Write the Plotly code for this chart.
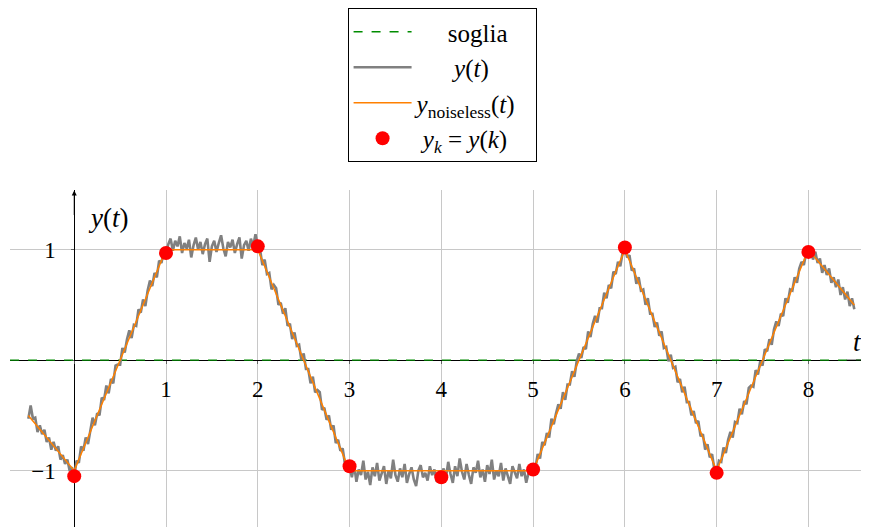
import numpy as np
import plotly.graph_objects as go

# ---- data ----
T_START = -0.5
T_STEP = 0.025
y_noisy = [
    # -0.5 .. -0.025
    -0.53, -0.41, -0.53, -0.52, -0.65, -0.59, -0.67, -0.63, -0.74, -0.70,
    -0.81, -0.74, -0.82, -0.78, -0.90, -0.86, -0.94, -0.90, -1.00, -0.97,
    # t = 0
    -1.05,
    -0.91, -0.93, -0.78, -0.82, -0.70, -0.76, -0.62, -0.52, -0.59, -0.48,
    -0.50, -0.34, -0.36, -0.23, -0.30, -0.17, -0.21, -0.05, -0.04, -0.04,
    0.11, 0.07, 0.19, 0.27, 0.20, 0.32, 0.31, 0.46, 0.43, 0.55,
    0.49, 0.63, 0.72, 0.67, 0.79, 0.75, 0.90, 0.88, 0.98,
    # t = 1
    0.97,
    1.05, 1.10, 0.99, 1.08, 1.03, 1.12, 0.97, 1.06, 1.01, 1.09,
    0.93, 1.04, 1.11, 1.00, 1.07, 0.96, 1.05, 1.10, 0.89, 1.03,
    1.08, 0.98, 1.06, 1.13, 1.01, 0.94, 1.07, 1.02, 1.09, 0.97,
    1.05, 1.11, 0.92, 1.04, 1.08, 0.99, 1.10, 1.03, 1.14,
    # t = 2
    1.03,
    1.00, 0.86, 0.91, 0.78, 0.79, 0.64, 0.68, 0.65, 0.50, 0.52,
    0.42, 0.47, 0.31, 0.33, 0.19, 0.25, 0.13, 0.14, 0.00, 0.06,
    -0.08, -0.08, -0.21, -0.15, -0.29, -0.27, -0.29, -0.45, -0.43, -0.54,
    -0.50, -0.63, -0.59, -0.75, -0.72, -0.82, -0.80, -0.94, -0.93,
    # t = 3
    -0.96,
    -1.06, -0.95, -1.10, -0.99, -1.04, -0.91, -1.08, -1.01, -1.13, -0.97,
    -1.05, -0.93, -1.09, -1.02, -0.96, -1.12, -1.00, -1.07, -0.90, -1.04,
    -1.10, -0.98, -1.06, -0.94, -1.11, -1.03, -0.97, -1.08, -1.14, -1.00,
    -0.95, -1.06, -1.02, -1.09, -0.96, -1.04, -0.99, -1.10, -1.03,
    # t = 4
    -1.06,
    -0.98, -1.07, -0.92, -1.03, -1.11, -0.96, -1.05, -0.89, -1.01, -1.08,
    -0.94, -1.04, -1.12, -0.97, -1.02, -0.91, -1.06, -0.99, -1.10, -0.95,
    -1.03, -0.90, -1.08, -1.00, -1.05, -0.93, -1.09, -0.98, -1.04, -1.12,
    -0.96, -1.01, -1.07, -0.94, -1.05, -0.99, -1.11, -1.02, -0.97,
    # t = 5
    -0.99,
    -0.98, -0.85, -0.89, -0.74, -0.77, -0.66, -0.70, -0.53, -0.58, -0.48,
    -0.40, -0.44, -0.29, -0.36, -0.22, -0.22, -0.10, -0.15, -0.01, 0.06,
    0.02, 0.12, 0.10, 0.26, 0.21, 0.33, 0.40, 0.34, 0.47, 0.47,
    0.61, 0.56, 0.68, 0.65, 0.80, 0.78, 0.89, 0.85, 0.97,
    # t = 6
    1.02,
    0.93, 0.95, 0.81, 0.83, 0.69, 0.75, 0.63, 0.64, 0.50, 0.56,
    0.42, 0.42, 0.30, 0.34, 0.22, 0.26, 0.11, 0.12, -0.01, 0.05,
    -0.07, -0.06, -0.20, -0.17, -0.29, -0.24, -0.38, -0.38, -0.50, -0.46,
    -0.57, -0.55, -0.69, -0.67, -0.81, -0.76, -0.88, -0.85, -0.99,
    # t = 7
    -1.02,
    -0.91, -0.92, -0.79, -0.84, -0.72, -0.65, -0.70, -0.56, -0.57, -0.44,
    -0.49, -0.37, -0.40, -0.25, -0.23, -0.24, -0.09, -0.13, -0.01, -0.05,
    0.10, 0.08, 0.19, 0.14, 0.28, 0.35, 0.31, 0.42, 0.40, 0.56,
    0.52, 0.64, 0.63, 0.75, 0.70, 0.83, 0.89, 0.86, 0.97,
    # t = 8
    0.98,
    1.01, 0.91, 0.98, 0.88, 0.92, 0.79, 0.86, 0.77, 0.83, 0.70,
    0.75, 0.66, 0.73, 0.59, 0.66, 0.55, 0.62, 0.49, 0.56, 0.46,
]
t_noisy = np.round(T_START + T_STEP * np.arange(len(y_noisy)), 4)

t_noiseless = [-0.5, 0, 1, 2, 3, 4, 5, 6, 7, 8, 8.5]
y_noiseless = [-0.5, -1, 1, 1, -1, -1, -1, 1, -1, 1, 0.5]

k_samples = [0, 1, 2, 3, 4, 5, 6, 7, 8]
y_samples = [-1.05, 0.97, 1.03, -0.96, -1.06, -0.99, 1.02, -1.02, 0.98]

soglia = 0.0
x_range = [-0.70, 8.66]
y_range = [-1.51, 1.54]

x_ticks = [0, 1, 2, 3, 4, 5, 6, 7, 8]
x_ticktext = ["", "1", "2", "3", "4", "5", "6", "7", "8"]
y_ticks = [-1, 0, 1]
y_ticktext = ["\u22121", "", "1"]

FONT = "Liberation Serif"
NB = "&nbsp;"

fig = go.Figure()
fig.add_trace(go.Scatter(x=x_range, y=[soglia, soglia], mode="lines",
                         line=dict(color="rgb(0,140,0)", width=1.4, dash="dash"),
                         name=NB * 5 + "soglia", legendgroup="a"))
fig.add_trace(go.Scatter(x=t_noisy, y=y_noisy, mode="lines",
                         line=dict(color="rgb(128,128,128)", width=2.6),
                         name=NB * 6 + "<i>y</i>(<i>t</i>)", legendgroup="b"))
fig.add_trace(go.Scatter(x=t_noiseless, y=y_noiseless, mode="lines",
                         line=dict(color="rgb(255,128,0)", width=1.5),
                         name="<i>y</i><sub>noiseless</sub>(<i>t</i>)" + NB * 2,
                         legendgroup="c"))
fig.add_trace(go.Scatter(x=k_samples, y=y_samples, mode="markers",
                         marker=dict(color="rgb(255,0,0)", size=14),
                         name=NB + "<i>y<sub>k</sub></i> = <i>y</i>(<i>k</i>)", legendgroup="d"))

xpos0 = (0 - x_range[0]) / (x_range[1] - x_range[0])
ypos0 = (0 - y_range[0]) / (y_range[1] - y_range[0])

W, H = 861, 519
ML, MT = 2, 182
plot_h = H - MT

fig.update_layout(
    width=W, height=H,
    margin=dict(l=ML, r=0, t=MT, b=0, pad=0),
    paper_bgcolor="white", plot_bgcolor="white",
    font=dict(family=FONT, size=22, color="black"),
    showlegend=True,
    legend=dict(x=0.503, xanchor="center", y=(plot_h + MT) / plot_h, yanchor="top",
                bordercolor="black", borderwidth=1, bgcolor="white",
                font=dict(family=FONT, size=25), itemwidth=58,
                traceorder="grouped", tracegroupgap=0),
    xaxis=dict(range=x_range, tickvals=x_ticks, ticktext=x_ticktext,
               showgrid=True, gridcolor="rgb(200,200,200)", gridwidth=1,
               zeroline=False, showline=True, linecolor="black", linewidth=1,
               anchor="free", position=ypos0, ticks="outside", ticklen=3,
               tickcolor="rgb(100,100,100)", ticklabelstandoff=5,
               layer="below traces",
               automargin=False, tickfont=dict(family=FONT, size=23)),
    yaxis=dict(range=y_range, tickvals=y_ticks, ticktext=y_ticktext,
               showgrid=True, gridcolor="rgb(200,200,200)", gridwidth=1,
               zeroline=False, showline=True, linecolor="black", linewidth=1,
               anchor="free", position=xpos0, ticks="outside", ticklen=3,
               tickcolor="rgb(100,100,100)", ticklabelstandoff=11,
               layer="below traces",
               automargin=False, tickfont=dict(family=FONT, size=23)),
)

# axis arrows and labels
fig.add_annotation(x=0, y=1.535, ax=0, ay=1.3, xref="x", yref="y",
                   axref="x", ayref="y", showarrow=True, arrowhead=2,
                   arrowsize=1, arrowwidth=1, arrowcolor="black", text="")
fig.add_annotation(x=8.655, y=0, ax=8.4, ay=0, xref="x", yref="y",
                   axref="x", ayref="y", showarrow=True, arrowhead=2,
                   arrowsize=1, arrowwidth=1, arrowcolor="black", text="")
fig.add_annotation(x=0.37, y=1.29, xref="x", yref="y", showarrow=False,
                   text="<i>y</i>(<i>t</i>)", font=dict(family=FONT, size=27))
fig.add_annotation(x=8.53, y=0.16, xref="x", yref="y", showarrow=False,
                   text="<i>t</i>", font=dict(family=FONT, size=27))

fig.write_html("out.html")
